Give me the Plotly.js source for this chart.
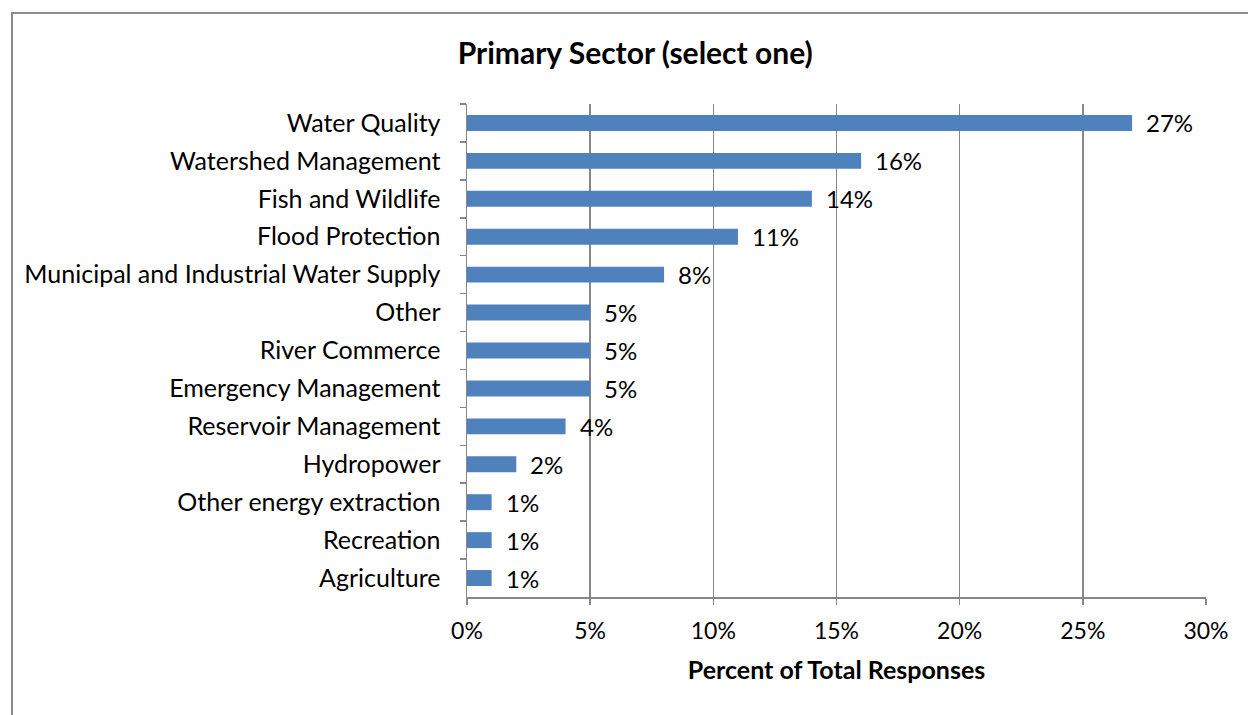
<!DOCTYPE html>
<html>
<head>
<meta charset="utf-8">
<script src="https://cdn.plot.ly/plotly-3.0.1.min.js"></script>
<style>
  html, body { margin: 0; padding: 0; background: #fff; }
  #wrap { position: relative; width: 1248px; height: 715px; }
  #chart { width: 1248px; height: 715px; }
  .frameL { position: absolute; left: 11px; top: 12px; width: 2px; height: 703px; background: #8c8c8c; pointer-events: none; }
  .frameT { position: absolute; left: 11px; top: 12px; width: 1237px; height: 2px; background: #8c8c8c; pointer-events: none; }
</style>
</head>
<body>
<div id="wrap">
  <div id="chart"></div>
  <div class="frameL"></div>
  <div class="frameT"></div>
</div>
<script>
const categories = [
  "Water Quality",
  "Watershed Management",
  "Fish and Wildlife",
  "Flood Protection",
  "Municipal and Industrial Water Supply",
  "Other",
  "River Commerce",
  "Emergency Management",
  "Reservoir Management",
  "Hydropower",
  "Other energy extraction",
  "Recreation",
  "Agriculture"
];
const percentValues = [27, 16, 14, 11, 8, 5, 5, 5, 4, 2, 1, 1, 1];
const xTickValues = [0, 5, 10, 15, 20, 25, 30];
const xTickLabels = ["0%", "5%", "10%", "15%", "20%", "25%", "30%"];

const FONT = "Lato, Open Sans, sans-serif";
const GRID = "#878787";

const trace = {
  type: "bar",
  orientation: "h",
  y: categories,
  x: percentValues,
  marker: { color: "#4F81BD" },
  hoverinfo: "x+y"
};

const annotations = categories.map((c, i) => ({
  x: percentValues[i],
  y: c,
  xref: "x",
  yref: "y",
  text: percentValues[i] + "%",
  showarrow: false,
  xanchor: "left",
  yanchor: "middle",
  xshift: 12,
  font: { family: FONT, size: 24, color: "#000" }
}));

const layout = {
  width: 1248,
  height: 715,
  margin: { l: 467, r: 42, t: 104, b: 118 },
  paper_bgcolor: "#fff",
  plot_bgcolor: "#fff",
  font: { family: FONT, size: 24, color: "#000" },
  bargap: 0.58,
  showlegend: false,
  title: {
    text: "<b>Primary Sector (select one)</b>",
    font: { family: FONT, size: 30, color: "#000" },
    x: 0.509,
    xanchor: "center",
    y: 0.925,
    yanchor: "middle"
  },
  xaxis: {
    range: [0, 30],
    tickvals: xTickValues,
    ticktext: xTickLabels,
    showgrid: true,
    gridcolor: GRID,
    gridwidth: 1.5,
    showline: true,
    linecolor: GRID,
    linewidth: 1.5,
    ticks: "outside",
    ticklen: 6,
    tickcolor: GRID,
    tickwidth: 1.5,
    ticklabelstandoff: 7,
    tickfont: { family: FONT, size: 23, color: "#000" },
    zeroline: false,
    fixedrange: true,
    title: {
      text: "<b>Percent of Total Responses</b>",
      font: { family: FONT, size: 25, color: "#000" },
      standoff: 18
    }
  },
  yaxis: {
    type: "category",
    categoryorder: "array",
    categoryarray: categories,
    autorange: "reversed",
    showline: true,
    linecolor: GRID,
    linewidth: 1.5,
    ticks: "outside",
    tickson: "boundaries",
    ticklen: 6,
    tickcolor: GRID,
    tickwidth: 1.5,
    ticklabelstandoff: 20,
    tickfont: { family: FONT, size: 25, color: "#000" },
    showgrid: false,
    zeroline: false,
    fixedrange: true
  },
  annotations: annotations
};

Plotly.newPlot("chart", [trace], layout, { displayModeBar: false, staticPlot: true });
</script>
</body>
</html>
